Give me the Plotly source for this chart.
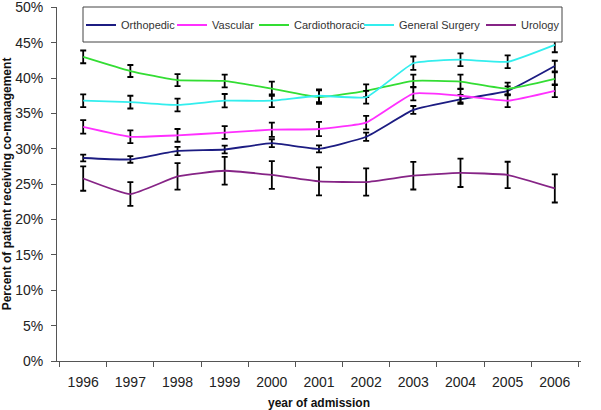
import plotly.graph_objects as go

years = ["1996", "1997", "1998", "1999", "2000", "2001", "2002", "2003", "2004", "2005", "2006"]

ortho = [28.7, 28.5, 29.7, 29.9, 30.8, 30.0, 31.7, 35.5, 37.0, 38.2, 41.7]
ortho_err = [0.47, 0.47, 0.58, 0.55, 0.55, 0.5, 0.58, 0.55, 0.63, 0.63, 0.75]
vasc = [33.1, 31.7, 31.9, 32.3, 32.7, 32.8, 33.7, 37.8, 37.5, 36.8, 38.2]
vasc_err = [0.95, 0.9, 0.9, 0.9, 1.0, 1.0, 0.95, 0.95, 0.95, 0.9, 0.9]
cardio = [43.0, 41.0, 39.7, 39.6, 38.5, 37.3, 38.2, 39.6, 39.5, 38.5, 39.9]
cardio_err = [0.9, 0.85, 0.85, 0.9, 1.0, 0.95, 0.9, 0.9, 1.0, 0.85, 0.9]
gensurg = [36.8, 36.6, 36.2, 36.8, 36.8, 37.5, 37.3, 42.1, 42.6, 42.3, 44.7]
gensurg_err = [0.9, 0.9, 0.9, 0.95, 0.9, 0.9, 0.9, 0.95, 0.9, 0.9, 1.05]
uro = [25.8, 23.6, 26.1, 26.9, 26.3, 25.4, 25.3, 26.2, 26.6, 26.3, 24.4]
uro_err = [1.73, 1.68, 1.87, 1.97, 1.97, 1.97, 1.92, 1.95, 2.0, 1.87, 1.99]

names = ["Orthopedic", "Vascular", "Cardiothoracic", "General Surgery", "Urology"]
values = [ortho, vasc, cardio, gensurg, uro]
errors = [ortho_err, vasc_err, cardio_err, gensurg_err, uro_err]
colors = ["#1C1C82", "#FF30FF", "#33DD33", "#33EEEE", "#862486"]

W, H = 601, 410
ML, MR, MT, MB = 57, 20, 7, 49
PW, PH = W - ML - MR, H - MT - MB
# legend entries: left pixel of each entry (text starts 40px later)
legend_px = [81, 172, 254, 359, 481]
legend_ids = ["legend", "legend2", "legend3", "legend4", "legend5"]

fig = go.Figure()
for name, vals, errs, col, lid in zip(names, values, errors, colors, legend_ids):
    fig.add_trace(go.Scatter(
        x=years, y=[v / 100 for v in vals], name=name, mode="lines", legend=lid,
        line=dict(color=col, width=1.8, shape="spline", smoothing=0.4),
        error_y=dict(type="data", array=[e / 100 for e in errs], visible=True,
                     color="black", thickness=1.8, width=3),
    ))

legend_layout = {}
for lid, px in zip(legend_ids, legend_px):
    legend_layout[lid] = dict(
        orientation="h", xref="container", yref="container",
        x=px / W, y=1 - 25 / H, xanchor="left", yanchor="middle",
        borderwidth=0, bgcolor="rgba(0,0,0,0)",
        font=dict(size=11, color="#333333"), itemwidth=30,
    )

fig.update_layout(
    width=W, height=H,
    margin=dict(l=ML, r=MR, t=MT, b=MB, autoexpand=False),
    paper_bgcolor="white", plot_bgcolor="white",
    font=dict(family="Liberation Sans, Arial, sans-serif", color="#222222"),
    showlegend=True,
    **legend_layout,
)
# legend frame (pixel box 83..562 x 7..42)
fig.add_shape(type="rect", xref="paper", yref="paper",
              x0=(83 - ML) / PW, x1=(562 - ML) / PW,
              y0=(H - MB - 42) / PH, y1=(H - MB - 7) / PH,
              line=dict(color="#444444", width=1), fillcolor="white", layer="above")

fig.update_xaxes(
    type="category", tickson="boundaries", ticks="outside", ticklen=5,
    ticklabelstandoff=8,
    tickcolor="#555555", showline=True, linecolor="#555555", linewidth=1,
    showgrid=False, tickfont=dict(size=14), automargin=False,
    title=dict(text="<b>year of admission</b>", font=dict(size=12, color="#111111"), standoff=14),
)
fig.update_yaxes(
    range=[0, 0.5005], tickvals=[0, 0.05, 0.1, 0.15, 0.2, 0.25, 0.3, 0.35, 0.4, 0.45, 0.5],
    tickformat=".0%", ticks="outside", ticklen=5, ticklabelstandoff=5,
    ticklabeloverflow="allow",
    tickcolor="#555555", showline=True, linecolor="#555555", linewidth=1,
    showgrid=False, zeroline=False, tickfont=dict(size=14), automargin=False,
    title=dict(text="<b>Percent of patient receiving co-management</b>",
               font=dict(size=12, color="#111111"), standoff=2),
)

fig.write_html("out.html", config={"displayModeBar": False},
               post_script="document.body.style.margin='0px';")
